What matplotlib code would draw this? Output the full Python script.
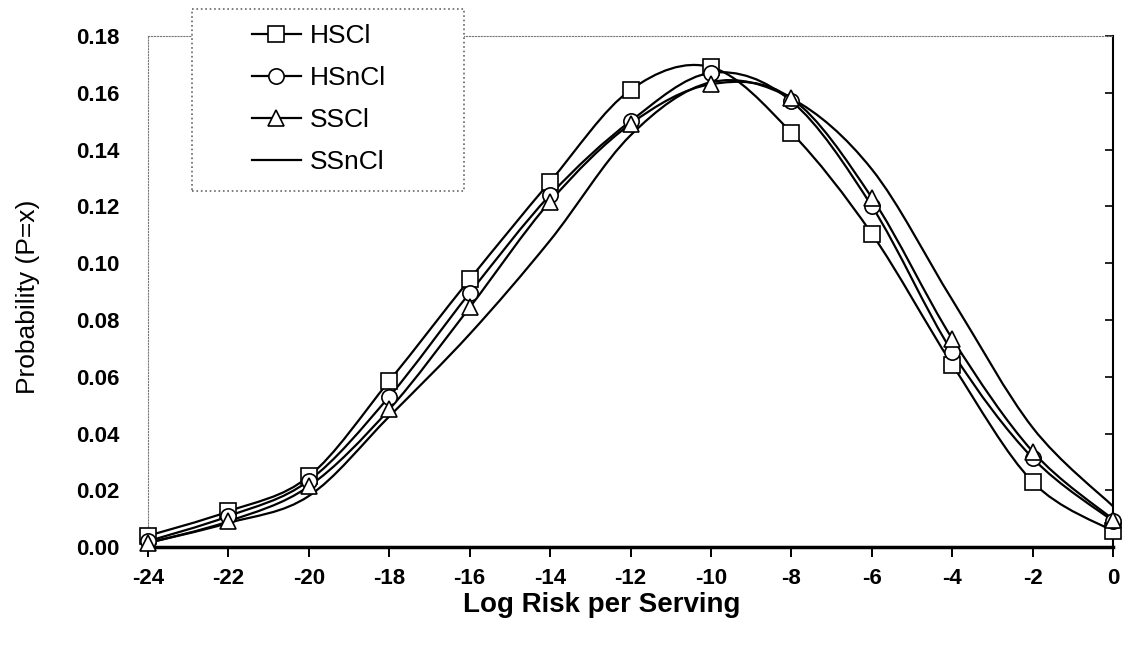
import numpy as np
import matplotlib
matplotlib.use("Agg")
import matplotlib.pyplot as plt
from matplotlib.path import Path
from matplotlib.patches import PathPatch, Rectangle
from matplotlib.lines import Line2D

plt.rcParams['font.family'] = ['Liberation Sans', 'DejaVu Sans']
plt.rcParams['axes.unicode_minus'] = False

# data
log_risk = [-24, -22, -20, -18, -16, -14, -12, -10, -8, -6, -4, -2, 0]
hscl = [0.004, 0.0126, 0.0249, 0.0585, 0.0943, 0.1287, 0.161, 0.169, 0.1459, 0.1103, 0.0642, 0.0229, 0.0056]
hsncl = [0.0021, 0.0109, 0.0234, 0.053, 0.0895, 0.124, 0.150, 0.167, 0.157, 0.120, 0.0686, 0.0313, 0.0091]
sscl = [0.0015, 0.0091, 0.0214, 0.0485, 0.0844, 0.1217, 0.149, 0.163, 0.158, 0.123, 0.0733, 0.0336, 0.0097]
ssncl = [0.0015, 0.0085, 0.018, 0.046, 0.075, 0.108, 0.145, 0.1637, 0.158, 0.133, 0.087, 0.042, 0.0143]

series = [
    ("HSCl", hscl, 's'),
    ("HSnCl", hsncl, 'o'),
    ("SSCl", sscl, '^'),
    ("SSnCl", ssncl, None),
]


def smooth_path(xs, ys):
    """Catmull-Rom style bezier path through the points (like Excel smoothed lines)."""
    pts = np.column_stack([xs, ys]).astype(float)
    n = len(pts)
    verts = [pts[0]]
    codes = [Path.MOVETO]
    for i in range(n - 1):
        p0 = pts[max(i - 1, 0)]
        p1 = pts[i]
        p2 = pts[i + 1]
        p3 = pts[min(i + 2, n - 1)]
        c1 = p1 + (p2 - p0) / 6.0
        c2 = p2 - (p3 - p1) / 6.0
        verts += [c1, c2, p2]
        codes += [Path.CURVE4] * 3
    return Path(verts, codes)


fig = plt.figure(figsize=(11.28, 6.53), dpi=100)
ax = fig.add_axes([0.131, 0.162, 0.856, 0.783])

handles = []
for name, vals, mk in series:
    patch = PathPatch(smooth_path(log_risk, vals), fill=False, edgecolor='black',
                      lw=1.6, transform=ax.transData, zorder=2)
    ax.add_patch(patch)
    if mk is not None:
        ax.plot(log_risk, vals, linestyle='none', marker=mk, markersize=11,
                markerfacecolor='white', markeredgecolor='black', markeredgewidth=1.2,
                zorder=3, clip_on=False)
    handles.append(Line2D([], [], color='black', lw=1.6, marker=mk if mk else None,
                          markersize=11, markerfacecolor='white',
                          markeredgecolor='black', markeredgewidth=1.2))

ax.set_xlim(-24, 0)
ax.set_ylim(0, 0.18)
ax.set_xticks(log_risk)
ax.set_xticklabels([str(v) for v in log_risk])
yticks = np.arange(0, 0.181, 0.02)
ax.set_yticks(yticks)
ax.set_yticklabels(['%.2f' % v for v in yticks])

for lab in ax.get_xticklabels() + ax.get_yticklabels():
    lab.set_fontweight('bold')
    lab.set_fontsize(16)

ax.yaxis.set_ticks_position('right')
ax.tick_params(axis='y', direction='in', length=6, width=1.2, labelleft=True,
               labelright=False, pad=20)
ax.tick_params(axis='x', direction='out', length=7, width=1.4, pad=8)

ax.spines['left'].set_linestyle(':')
ax.spines['left'].set_color('#777777')
ax.spines['top'].set_linestyle(':')
ax.spines['top'].set_color('#777777')
ax.spines['right'].set_linewidth(1.5)
ax.spines['bottom'].set_linewidth(2.5)

ax.set_xlabel('Log Risk per Serving', fontsize=20, fontweight='bold')
ax.xaxis.set_label_coords(0.47, -0.088)
ax.set_ylabel('Probability (P=x)', fontsize=19)
ax.yaxis.set_label_coords(-0.112, 0.49)

# legend box sits partly above the plot area, like the original
box = Rectangle((0.1702, 0.7075), 0.2411, 0.2787, transform=fig.transFigure,
                facecolor='white', edgecolor='#666666', linestyle=':', lw=1.2, zorder=4)
fig.add_artist(box)
leg = fig.legend(handles, [s[0] for s in series], loc='upper left',
                 bbox_to_anchor=(0.2234, 0.963), borderaxespad=0, borderpad=0,
                 fontsize=19, handlelength=1.85, labelspacing=0.68, handletextpad=0.35,
                 frameon=False)
leg.set_zorder(5)

fig.savefig('out.png', dpi=100)
